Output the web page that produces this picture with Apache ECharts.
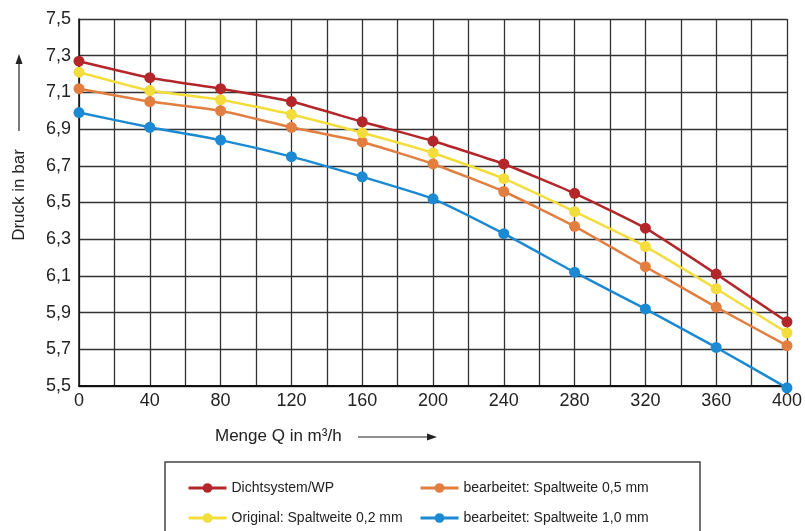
<!DOCTYPE html>
<html>
<head>
<meta charset="utf-8">
<script src="https://cdn.jsdelivr.net/npm/echarts@6/dist/echarts.min.js"></script>
<style>
  html, body { margin: 0; padding: 0; background: #fff; }
  #chart { width: 805px; height: 531px; }
</style>
</head>
<body>
<div id="chart"></div>
<script>
  // Menge Q in m3/h
  var mengeQ = [0, 40, 80, 120, 160, 200, 240, 280, 320, 360, 400];
  // Druck in bar
  var dichtsystem = [7.27, 7.18, 7.12, 7.05, 6.94, 6.835, 6.71, 6.55, 6.36, 6.11, 5.85];
  var original02 = [7.21, 7.11, 7.06, 6.98, 6.88, 6.77, 6.63, 6.45, 6.26, 6.03, 5.79];
  var bearbeitet05 = [7.12, 7.05, 7.0, 6.91, 6.83, 6.71, 6.56, 6.37, 6.15, 5.93, 5.72];
  var bearbeitet10 = [6.99, 6.91, 6.84, 6.75, 6.64, 6.52, 6.33, 6.12, 5.92, 5.71, 5.49];

  var names = [
    'Dichtsystem/WP',
    'Original: Spaltweite 0,2 mm',
    'bearbeitet: Spaltweite 0,5 mm',
    'bearbeitet: Spaltweite 1,0 mm'
  ];
  var colors = ['#b3262a', '#f3dd3c', '#e27e40', '#1b8ad3'];
  var values = [dichtsystem, original02, bearbeitet05, bearbeitet10];

  function pairs(ys) {
    return mengeQ.map(function (x, i) { return [x, ys[i]]; });
  }

  var gridColor = '#333';
  var textColor = '#222';
  var font = 'Liberation Sans, Arial, sans-serif';

  var series = names.map(function (n, i) {
    return {
      name: n,
      type: 'line',
      smooth: 0.15,
      clip: false,
      symbol: 'circle',
      symbolSize: 11,
      z: 10 - i,
      lineStyle: { color: colors[i], width: 2.5 },
      itemStyle: { color: colors[i] },
      data: pairs(values[i])
    };
  });

  var legendText = { fontSize: 14, color: textColor, fontFamily: font };

  var myChart = echarts.init(document.getElementById('chart'));
  myChart.setOption({
    animation: false,
    textStyle: { fontFamily: font },
    grid: { left: 79, right: 15, top: 19, bottom: 145 },
    xAxis: {
      type: 'value',
      min: 0,
      max: 400,
      interval: 20,
      axisLine: { show: true, lineStyle: { color: '#111', width: 2 } },
      axisTick: { show: false },
      splitLine: { show: true, lineStyle: { color: gridColor, width: 1.3 } },
      axisLabel: {
        margin: 6,
        fontSize: 18,
        color: textColor,
        formatter: function (v) { return v % 40 === 0 ? String(v) : ''; }
      }
    },
    yAxis: {
      type: 'value',
      min: 5.5,
      max: 7.5,
      interval: 0.2,
      axisLine: { show: true, lineStyle: { color: '#111', width: 1.5 } },
      axisTick: { show: false },
      splitLine: { show: true, lineStyle: { color: gridColor, width: 1.3 } },
      axisLabel: {
        margin: 8,
        fontSize: 18,
        color: textColor,
        formatter: function (v) { return v.toFixed(1).replace('.', ','); }
      }
    },
    legend: [
      {
        orient: 'vertical',
        left: 182,
        top: 476,
        itemWidth: 38,
        itemHeight: 12,
        itemGap: 16,
        itemStyle: { borderWidth: 0 },
        lineStyle: { width: 3 },
        textStyle: legendText,
        data: [names[0], names[1]]
      },
      {
        orient: 'vertical',
        left: 414,
        top: 476,
        itemWidth: 38,
        itemHeight: 12,
        itemGap: 16,
        itemStyle: { borderWidth: 0 },
        lineStyle: { width: 3 },
        textStyle: legendText,
        data: [names[2], names[3]]
      }
    ],
    graphic: [
      {
        type: 'rect',
        shape: { x: 165, y: 462, width: 535, height: 80 },
        style: { fill: 'none', stroke: '#444', lineWidth: 1.5 }
      },
      {
        type: 'text',
        x: 215,
        y: 436,
        style: {
          text: 'Menge Q in m³/h',
          font: '17px ' + font,
          fill: textColor,
          verticalAlign: 'middle'
        }
      },
      {
        type: 'line',
        shape: { x1: 358, y1: 437, x2: 430, y2: 437 },
        style: { stroke: '#222', lineWidth: 1.2 }
      },
      {
        type: 'polygon',
        shape: { points: [[437, 437], [427, 433.5], [427, 440.5]] },
        style: { fill: '#222' }
      },
      {
        type: 'text',
        x: 19,
        y: 195,
        rotation: Math.PI / 2,
        style: {
          text: 'Druck in bar',
          font: '17px ' + font,
          fill: textColor,
          align: 'center',
          verticalAlign: 'middle'
        }
      },
      {
        type: 'line',
        shape: { x1: 19, y1: 131, x2: 19, y2: 62 },
        style: { stroke: '#222', lineWidth: 1.2 }
      },
      {
        type: 'polygon',
        shape: { points: [[19, 54], [15.5, 64], [22.5, 64]] },
        style: { fill: '#222' }
      }
    ],
    series: series
  });
</script>
</body>
</html>
